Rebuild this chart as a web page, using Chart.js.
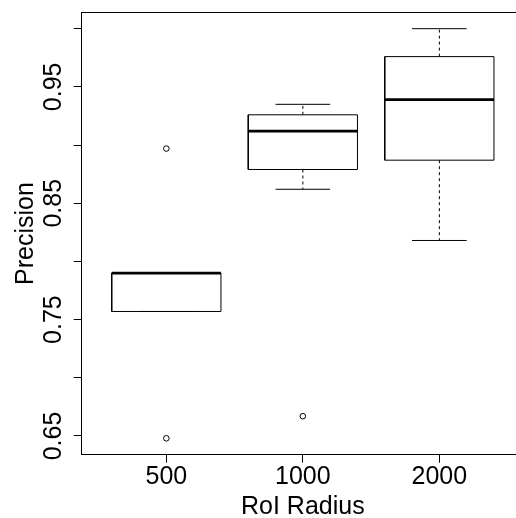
<!DOCTYPE html>
<html>
<head>
<meta charset="utf-8">
<script src="https://cdn.jsdelivr.net/npm/chart.js@4/dist/chart.umd.min.js"></script>
<style>
  html, body { margin: 0; padding: 0; background: #fff; overflow: hidden; }
  canvas { display: block; }
</style>
</head>
<body>
<canvas id="chart" width="524" height="518"></canvas>
<script>
// Groups (RoI Radius) and the five-number summaries
const categories = ['500', '1000', '2000'];
const whiskerLow = [0.757, 0.862, 0.818];
const q1 = [0.757, 0.879, 0.887];
const median = [0.790, 0.912, 0.939];
const q3 = [0.790, 0.926, 0.976];
const whiskerHigh = [0.790, 0.935, 1.000];

// Outliers: group index (1-based) and value
const outlierGroup = [1, 1, 2];
const outlierValue = [0.897, 0.648, 0.667];

// Y axis ticks, only every other one labelled
const yTicks = [0.65, 0.70, 0.75, 0.80, 0.85, 0.90, 0.95, 1.00];
const yTickLabels = ['0.65', '', '0.75', '', '0.85', '', '0.95', ''];

const FONT = "'Liberation Sans', Arial, sans-serif";
const BOX_HALF = 0.4;   // R boxwex 0.8
const CAP_HALF = 0.2;

// R-style axis ranges: data range stretched by 4% each side
const allValues = whiskerLow.concat(whiskerHigh, outlierValue);
const yLo = Math.min(...allValues);
const yHi = Math.max(...allValues);
const yPad = (yHi - yLo) * 0.04;
const xPad = categories.length * 0.04;
const xMin = 0.5 - xPad;
const xMax = categories.length + 0.5 + xPad;

const seg = (points, extra) => Object.assign({
  data: points,
  showLine: true,
  borderColor: '#000',
  borderWidth: 1,
  pointRadius: 0,
  fill: false
}, extra || {});

const datasets = [];
categories.forEach((cat, i) => {
  const x = i + 1;
  // whiskers (dashed) and caps
  datasets.push(seg([{ x, y: q3[i] }, { x, y: whiskerHigh[i] }], { borderDash: [3, 3] }));
  datasets.push(seg([{ x, y: q1[i] }, { x, y: whiskerLow[i] }], { borderDash: [3, 3] }));
  datasets.push(seg([{ x: x - CAP_HALF, y: whiskerHigh[i] }, { x: x + CAP_HALF, y: whiskerHigh[i] }]));
  datasets.push(seg([{ x: x - CAP_HALF, y: whiskerLow[i] }, { x: x + CAP_HALF, y: whiskerLow[i] }]));
  // box
  datasets.push(seg([
    { x: x - BOX_HALF, y: q1[i] },
    { x: x + BOX_HALF, y: q1[i] },
    { x: x + BOX_HALF, y: q3[i] },
    { x: x - BOX_HALF, y: q3[i] },
    { x: x - BOX_HALF, y: q1[i] }
  ]));
  // median
  datasets.push(seg([{ x: x - BOX_HALF, y: median[i] }, { x: x + BOX_HALF, y: median[i] }], { borderWidth: 2.8 }));
});

// outlier circles
datasets.push({
  data: outlierValue.map((v, i) => ({ x: outlierGroup[i], y: v })),
  showLine: false,
  pointStyle: 'circle',
  pointRadius: 2.8,
  pointBorderWidth: 1,
  borderColor: '#000',
  backgroundColor: '#fff'
});

new Chart(document.getElementById('chart'), {
  type: 'scatter',
  data: { datasets },
  options: {
    responsive: false,
    animation: false,
    devicePixelRatio: 1,
    layout: { autoPadding: false, padding: { top: 12.3, left: 0, right: 0, bottom: 0 } },
    plugins: { legend: { display: false }, tooltip: { enabled: false } },
    scales: {
      x: {
        type: 'linear',
        position: 'bottom',
        min: xMin,
        max: xMax,
        afterBuildTicks: (scale) => { scale.ticks = categories.map((_, i) => ({ value: i + 1 })); },
        afterFit: (scale) => { scale.height = 63.3; },
        ticks: {
          callback: (v) => categories[Math.round(v) - 1],
          color: '#000',
          font: { family: FONT, size: 25 },
          padding: -1,
          maxRotation: 0,
          autoSkip: false
        },
        grid: { drawOnChartArea: false, drawTicks: true, tickLength: 8, color: '#000' },
        border: { display: true, color: '#000', width: 1 },
        title: {
          display: true,
          text: 'RoI Radius',
          color: '#000',
          font: { family: FONT, size: 25 },
          padding: { top: 0, bottom: -4 }
        }
      },
      xTop: {
        type: 'linear',
        position: 'top',
        min: xMin,
        max: xMax,
        afterFit: (scale) => { scale.height = 0; },
        ticks: { display: false },
        grid: { display: false },
        border: { display: true, color: '#000', width: 1 }
      },
      y: {
        type: 'linear',
        position: 'left',
        min: yLo - yPad,
        max: yHi + yPad,
        afterBuildTicks: (scale) => { scale.ticks = yTicks.map(v => ({ value: v })); },
        afterFit: (scale) => { scale.width = 81.7; },
        ticks: {
          callback: (v) => yTickLabels[yTicks.findIndex(t => Math.abs(t - v) < 1e-9)],
          color: '#000',
          font: { family: FONT, size: 25 },
          minRotation: 90,
          maxRotation: 90,
          crossAlign: 'center',
          padding: -5,
          autoSkip: false
        },
        grid: { drawOnChartArea: false, drawTicks: true, tickLength: 8, color: '#000' },
        border: { display: true, color: '#000', width: 1 },
        title: {
          display: true,
          text: 'Precision',
          color: '#000',
          font: { family: FONT, size: 25 },
          padding: { top: 11, bottom: 0 }
        }
      }
    }
  }
});
</script>
</body>
</html>
